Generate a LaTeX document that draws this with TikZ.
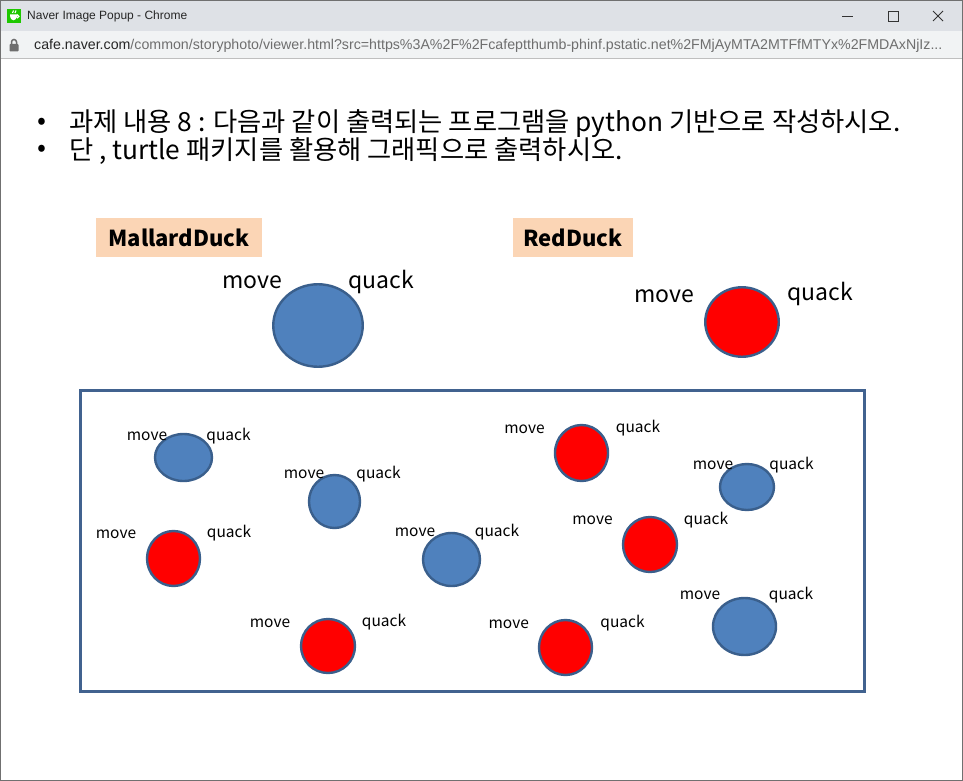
\documentclass[tikz,border=0pt]{standalone}
\usepackage{fontspec}
\setmainfont{Liberation Sans}
\newfontfamily\kr{Noto Sans CJK KR}
\usetikzlibrary{shapes.geometric}
\definecolor{duckblue}{HTML}{4F81BD}
\definecolor{duckedge}{HTML}{3A5F8C}
\definecolor{peach}{HTML}{FBD5B5}
\definecolor{titlegray}{HTML}{DEE1E6}
\definecolor{addrgray}{HTML}{F1F3F4}
\definecolor{framecol}{HTML}{41628F}
\definecolor{naver}{HTML}{1EC800}
\definecolor{urlgray}{HTML}{6E6E6E}
\definecolor{wingray}{HTML}{707070}
\begin{document}
\begin{tikzpicture}[x=1pt,y=-1pt,
  duck/.style={ellipse, draw=duckedge, line width=2.4pt, inner sep=0pt},
  lbl/.style={font=\kr\fontsize{15.5}{18}\selectfont, inner sep=0pt},
  biglbl/.style={font=\kr\fontsize{23}{28}\selectfont, inner sep=0pt},
  tag/.style={fill=peach, inner sep=0pt, font=\kr\bfseries\fontsize{22}{26}\selectfont},
  bullettext/.style={font=\kr\fontsize{26.3}{30}\selectfont, inner sep=0pt, anchor=west}]
\useasboundingbox (0,0) rectangle (963,781);
\fill[white] (0,0) rectangle (963,781);
% window chrome
\fill[titlegray] (0,0) rectangle (963,31);
\fill[addrgray] (0,31) rectangle (963,58);
\draw[black!25, line width=1pt] (0,58.5) -- (963,58.5);
\draw[wingray, line width=1pt] (0.5,0.5) rectangle (962.5,780.5);
% title icon
\fill[naver] (7,9) rectangle (21,23);
\fill[white] (10,14.5) -- (17,14.5) .. controls (17,19) and (15,20.3) .. (13.5,20.3) .. controls (12,20.3) and (10,19) .. (10,14.5) -- cycle;
\draw[white, line width=1.2pt] (17.6,16.4) circle (1.4);
\draw[white, line width=1.1pt] (12.5,13) .. controls (12,12) and (14,11.5) .. (13.5,10.5);
\draw[white, line width=1.1pt] (15,13) .. controls (14.5,12) and (16.5,11.5) .. (16,10.5);
\node[anchor=west, inner sep=0pt, font=\fontsize{12}{14}\selectfont, text=black!85] (title) at (27,16.5) {Naver Image Popup - Chrome};
% window controls
\draw[black!80, line width=0.8pt] (842,16.5) -- (853,16.5);
\draw[black!80, line width=0.8pt] (888.5,11.5) rectangle (898.5,21.5);
\draw[black!80, line width=0.8pt] (933,11) -- (943,21) (943,11) -- (933,21);
% lock and URL
\fill[urlgray, rounded corners=0.8pt] (9.5,44) rectangle (18.5,51.5);
\draw[urlgray, line width=1.5pt] (11.5,44.5) -- (11.5,42) arc (180:360:2.5) -- (16.5,44.5);
\node[anchor=west, inner sep=0pt, font=\fontsize{14.2}{16}\selectfont] (url) at (34,45.5) {\textcolor{black!85}{cafe.naver.com}\textcolor{urlgray}{/common/storyphoto/viewer.html?src=https\%3A\%2F\%2Fcafeptthumb-phinf.pstatic.net\%2FMjAyMTA2MTFfMTYx\%2FMDAxNjIz...}};
% assignment text
\node[bullettext] (b1) at (37,124) {•};
\node[bullettext] (t1) at (69,124) {과제 내용 8 : 다음과 같이 출력되는 프로그램을 python 기반으로 작성하시오.};
\node[bullettext] (b2) at (37,151) {•};
\node[bullettext] (t2) at (69,151) {단 , turtle 패키지를 활용해 그래픽으로 출력하시오.};
% class tags
\node[tag, minimum width=166pt, minimum height=39pt] (mallard) at (179,237.5) {MallardDuck};
\node[tag, minimum width=120pt, minimum height=39pt] (red) at (573,237.5) {RedDuck};
% big ducks
\node[duck, fill=duckblue, minimum width=89.5pt, minimum height=82.5pt] (bigA) at (318,325.5) {};
\node[biglbl] (bigAm) at (252,282) {move};
\node[biglbl] (bigAq) at (381,282) {quack};
\node[duck, fill=red, minimum width=73.5pt, minimum height=69.5pt] (bigB) at (742,322) {};
\node[biglbl] (bigBm) at (664,296) {move};
\node[biglbl] (bigBq) at (820,294) {quack};
% frame
\draw[framecol, line width=3pt] (80,390) rectangle (864,691);
% small ducks
\foreach \n/\x/\y/\w/\h/\c/\mx/\my/\qx/\qy in {
  1/183.5/457.5/57/47/duckblue/147/436/228.5/436,
  2/334.5/501.5/51/53/duckblue/304/474/378.5/474,
  3/173.5/558.5/53/55/red/116/534/229/533,
  4/451.5/559.5/57/53/duckblue/415/532/497/532,
  5/328/646/54/54/red/270/623/384/622,
  6/581.5/453/53/56/red/524.5/429/638/428,
  7/747/487/54/46/duckblue/713/465/791.5/465,
  8/650/544.5/54/55/red/592.5/520/706/520,
  9/565.5/647.5/53/55/red/508.7/624/622.5/623,
  10/744.5/626.5/63/57/duckblue/700/595/791/595}{
  \node[duck, fill=\c, minimum width=\w pt, minimum height=\h pt] (d\n) at (\x,\y) {};
  \node[lbl] (m\n) at (\mx,\my) {move};
  \node[lbl] (q\n) at (\qx,\qy) {quack};
}
\end{tikzpicture}
\end{document}
